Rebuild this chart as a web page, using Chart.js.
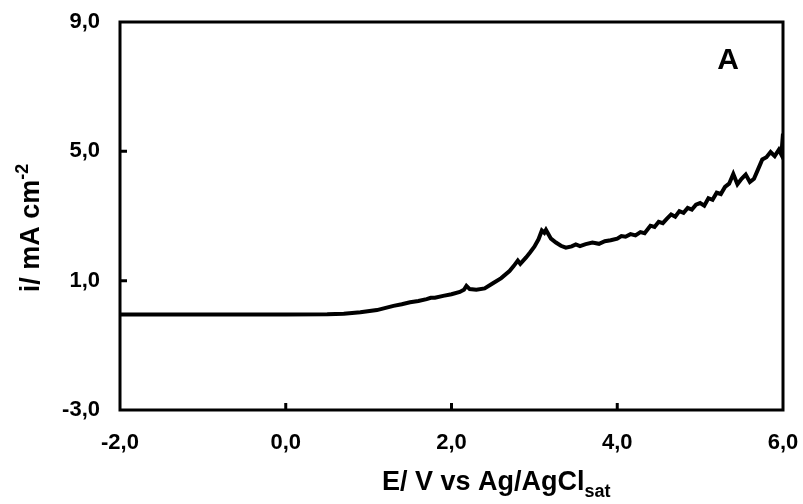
<!DOCTYPE html>
<html>
<head>
<meta charset="utf-8">
<script src="https://cdn.jsdelivr.net/npm/chart.js@4.4.0/dist/chart.umd.min.js"></script>
<style>
  html, body { margin: 0; padding: 0; background: #fff; }
  #wrap { width: 803px; height: 504px; }
</style>
</head>
<body>
<div id="wrap"><canvas id="chart0" width="803" height="504"></canvas></div>
<script>
// data
const potential = [-2.0, -1.0, 0.0, 0.5, 0.7, 0.9, 1.1, 1.3, 1.4, 1.5, 1.6, 1.7, 1.75, 1.8, 1.9, 2.0,
    2.1, 2.15, 2.18, 2.22, 2.3, 2.4, 2.5, 2.6, 2.7, 2.75, 2.8, 2.83, 2.9, 2.95, 3.0, 3.05, 3.09, 3.12,
    3.14, 3.2, 3.26, 3.32, 3.38, 3.45, 3.5, 3.55, 3.62, 3.7, 3.78, 3.85, 3.92, 4.0, 4.05, 4.1, 4.16,
    4.22, 4.28, 4.33, 4.4, 4.45, 4.5, 4.55, 4.6, 4.65, 4.7, 4.75, 4.8, 4.85, 4.9, 4.95, 5.0, 5.05,
    5.1, 5.15, 5.2, 5.25, 5.3, 5.35, 5.4, 5.45, 5.5, 5.55, 5.6, 5.65, 5.7, 5.75, 5.8, 5.85, 5.9,
    5.95, 5.98, 6.0];
const current = [-0.05, -0.05, -0.05, -0.04, -0.02, 0.02, 0.09, 0.22, 0.27, 0.33, 0.37, 0.43, 0.47, 0.47, 0.53, 0.58,
    0.65, 0.72, 0.84, 0.74, 0.72, 0.76, 0.92, 1.08, 1.30, 1.45, 1.62, 1.52, 1.72, 1.88, 2.05, 2.28, 2.55, 2.48,
    2.57, 2.30, 2.18, 2.08, 2.02, 2.06, 2.12, 2.07, 2.13, 2.18, 2.14, 2.22, 2.25, 2.30, 2.38, 2.36, 2.44,
    2.40, 2.50, 2.47, 2.70, 2.66, 2.82, 2.78, 2.92, 3.05, 2.98, 3.15, 3.10, 3.25, 3.20, 3.35, 3.40, 3.32,
    3.55, 3.50, 3.72, 3.68, 3.90, 4.00, 4.30, 3.98, 4.15, 4.28, 4.05, 4.15, 4.45, 4.75, 4.82, 4.98, 4.85,
    5.05, 4.90, 5.55];

const xTickValues = [-2, 0, 2, 4, 6];
const xTickLabels = ['-2,0', '0,0', '2,0', '4,0', '6,0'];
const yTickValues = [-3, 1, 5, 9];
const yTickLabels = ['-3,0', '1,0', '5,0', '9,0'];
const xTickMarks = [0, 2, 4];
const yTickMarks = [1, 5];
const panelLabel = 'A';

const FONT = '"Liberation Sans", Arial, sans-serif';

// frame, inward ticks, titles
const decorPlugin = {
    id: 'decor',
    afterDraw(chart) {
        const ctx = chart.ctx;
        const a = chart.chartArea;
        const xs = chart.scales.x, ys = chart.scales.y;
        ctx.save();
        ctx.strokeStyle = '#000';
        ctx.lineWidth = 3;
        ctx.strokeRect(a.left, a.top, a.right - a.left, a.bottom - a.top);

        ctx.beginPath();
        xTickMarks.forEach(v => {
            const px = xs.getPixelForValue(v);
            ctx.moveTo(px, a.bottom);
            ctx.lineTo(px, a.bottom - 7);
        });
        yTickMarks.forEach(v => {
            const py = ys.getPixelForValue(v);
            ctx.moveTo(a.left, py);
            ctx.lineTo(a.left + 7, py);
        });
        ctx.stroke();

        ctx.fillStyle = '#000';
        // panel letter
        ctx.font = 'bold 30px ' + FONT;
        ctx.textAlign = 'center';
        ctx.textBaseline = 'alphabetic';
        ctx.fillText(panelLabel, a.right - 55, a.top + 47);

        // x title with subscript
        const main = 'E/ V vs Ag/AgCl', sub = 'sat';
        ctx.textAlign = 'left';
        ctx.font = 'bold 27px ' + FONT;
        const w1 = ctx.measureText(main).width;
        ctx.fillText(main, 382, 490);
        ctx.font = 'bold 18px ' + FONT;
        ctx.fillText(sub, 382 + w1, 497);

        // y title with superscript
        const ym = 'i/ mA cm', ysup = '-2';
        ctx.translate(39, 228);
        ctx.rotate(-Math.PI / 2);
        ctx.font = 'bold 27px ' + FONT;
        const m1 = ctx.measureText(ym).width;
        ctx.font = 'bold 18px ' + FONT;
        const m2 = ctx.measureText(ysup).width;
        const y0 = -(m1 + m2) / 2;
        ctx.font = 'bold 27px ' + FONT;
        ctx.fillText(ym, y0, 0);
        ctx.font = 'bold 18px ' + FONT;
        ctx.fillText(ysup, y0 + m1, -11);
        ctx.restore();
    }
};

const ctx = document.getElementById('chart0').getContext('2d');
const chart0 = new Chart(ctx, {
    type: 'scatter',
    data: {
        datasets: [{
            data: potential.map((x, i) => ({ x: x, y: current[i] })),
            showLine: true,
            borderColor: '#000',
            borderWidth: 4,
            pointRadius: 0,
            tension: 0
        }]
    },
    options: {
        responsive: false,
        animation: false,
        layout: { autoPadding: false, padding: { top: 22, right: 20, left: 0, bottom: 0 } },
        plugins: { legend: { display: false }, tooltip: { enabled: false } },
        scales: {
            x: {
                type: 'linear',
                min: -2, max: 6,
                grid: { display: false, drawTicks: false },
                border: { display: false },
                afterBuildTicks: s => { s.ticks = xTickValues.map(v => ({ value: v })); },
                afterFit: s => {
                    s.height = 94;
                    s.paddingLeft = 0; s.paddingRight = 0;
                },
                ticks: {
                    padding: 20,
                    color: '#000',
                    font: { family: FONT, size: 22, weight: 'bold' },
                    callback: (v) => xTickLabels[xTickValues.indexOf(v)]
                }
            },
            y: {
                type: 'linear',
                min: -3, max: 9,
                grid: { display: false, drawTicks: false },
                border: { display: false },
                afterBuildTicks: s => { s.ticks = yTickValues.map(v => ({ value: v })); },
                afterFit: s => {
                    s.width = 120;
                    s.paddingTop = 0; s.paddingBottom = 0;
                },
                ticks: {
                    padding: 20,
                    color: '#000',
                    font: { family: FONT, size: 22, weight: 'bold' },
                    callback: (v) => yTickLabels[yTickValues.indexOf(v)]
                }
            }
        }
    },
    plugins: [decorPlugin]
});
</script>
</body>
</html>
